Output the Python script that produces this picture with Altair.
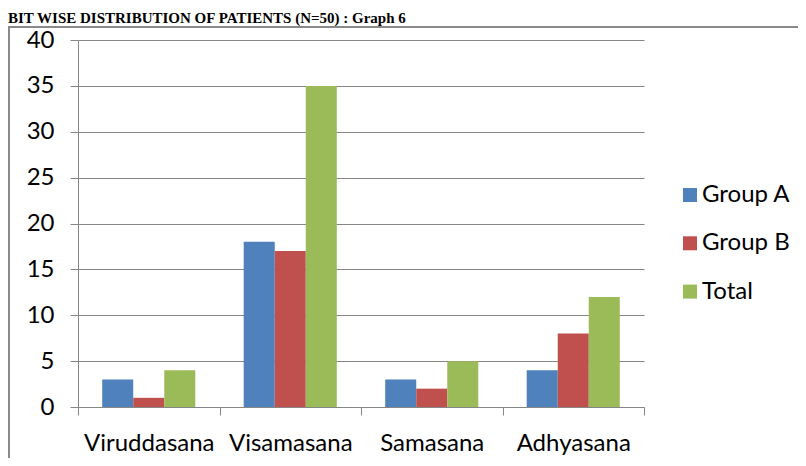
import altair as alt
import pandas as pd

categories = ["Viruddasana", "Visamasana", "Samasana", "Adhyasana"]
groups = ["Group A", "Group B", "Total"]
group_a = [3, 18, 3, 4]
group_b = [1, 17, 2, 8]
total = [4, 35, 5, 12]
colors = ["#4F81BD", "#C0504D", "#9BBB59"]
y_ticks = [0, 5, 10, 15, 20, 25, 30, 35, 40]
title_text = "BIT WISE DISTRIBUTION OF PATIENTS (N=50) : Graph 6"

rows = []
for i, c in enumerate(categories):
    for g, vals in zip(groups, [group_a, group_b, total]):
        rows.append({"category": c, "group": g, "value": vals[i]})
df = pd.DataFrame(rows)

FONT = "Lato"
AX = "#868686"
W, H = 566, 367

bars = alt.Chart(df).mark_bar().encode(
    x=alt.X(
        "category:N", sort=categories, title=None,
        scale=alt.Scale(paddingInner=0, paddingOuter=0),
        axis=alt.Axis(labelAngle=0, tickBand="extent", labelFont=FONT, labelFontSize=24,
                      labelColor="#000000", labelPadding=16, tickSize=8, tickColor=AX,
                      domainColor=AX, grid=False, labelLimit=300),
    ),
    xOffset=alt.XOffset("group:N", sort=groups,
                        scale=alt.Scale(paddingInner=0, paddingOuter=0.78)),
    y=alt.Y(
        "value:Q", title=None, scale=alt.Scale(domain=[0, 40], nice=False),
        axis=alt.Axis(values=y_ticks, labelFont=FONT, labelFontSize=24, labelColor="#000000",
                      labelPadding=16, tickSize=8, tickColor=AX, domainColor=AX,
                      grid=True, gridColor=AX, gridWidth=1),
    ),
    color=alt.Color(
        "group:N", sort=groups, scale=alt.Scale(domain=groups, range=colors),
        legend=alt.Legend(title=None, orient="none", legendX=600, legendY=143, padding=0,
                          symbolType="square", symbolSize=196, symbolStrokeWidth=0,
                          labelFont=FONT, labelFontSize=24, labelColor="#000000",
                          labelOffset=0, rowPadding=24.3),
    ),
)

frame = alt.Chart(pd.DataFrame({"k": [0]})).mark_rect(
    filled=False, stroke="#8a8a8a", strokeWidth=2
).encode(x=alt.value(-69), x2=alt.value(800), y=alt.value(-13), y2=alt.value(500))

title = alt.Chart(pd.DataFrame({"t": [title_text]})).mark_text(
    font="Liberation Serif", fontWeight="bold", fontSize=15, align="left",
    baseline="alphabetic", color="#000000"
).encode(x=alt.value(-70), y=alt.value(-17), text="t:N")

chart = alt.layer(frame, bars, title).properties(
    width=W, height=H, autosize="none",
    padding={"left": 70, "top": 32, "right": 154, "bottom": 51},
    background="#ffffff",
).configure_view(stroke=None)

chart.save("out.html", embed_options={"renderer": "svg", "actions": False})
